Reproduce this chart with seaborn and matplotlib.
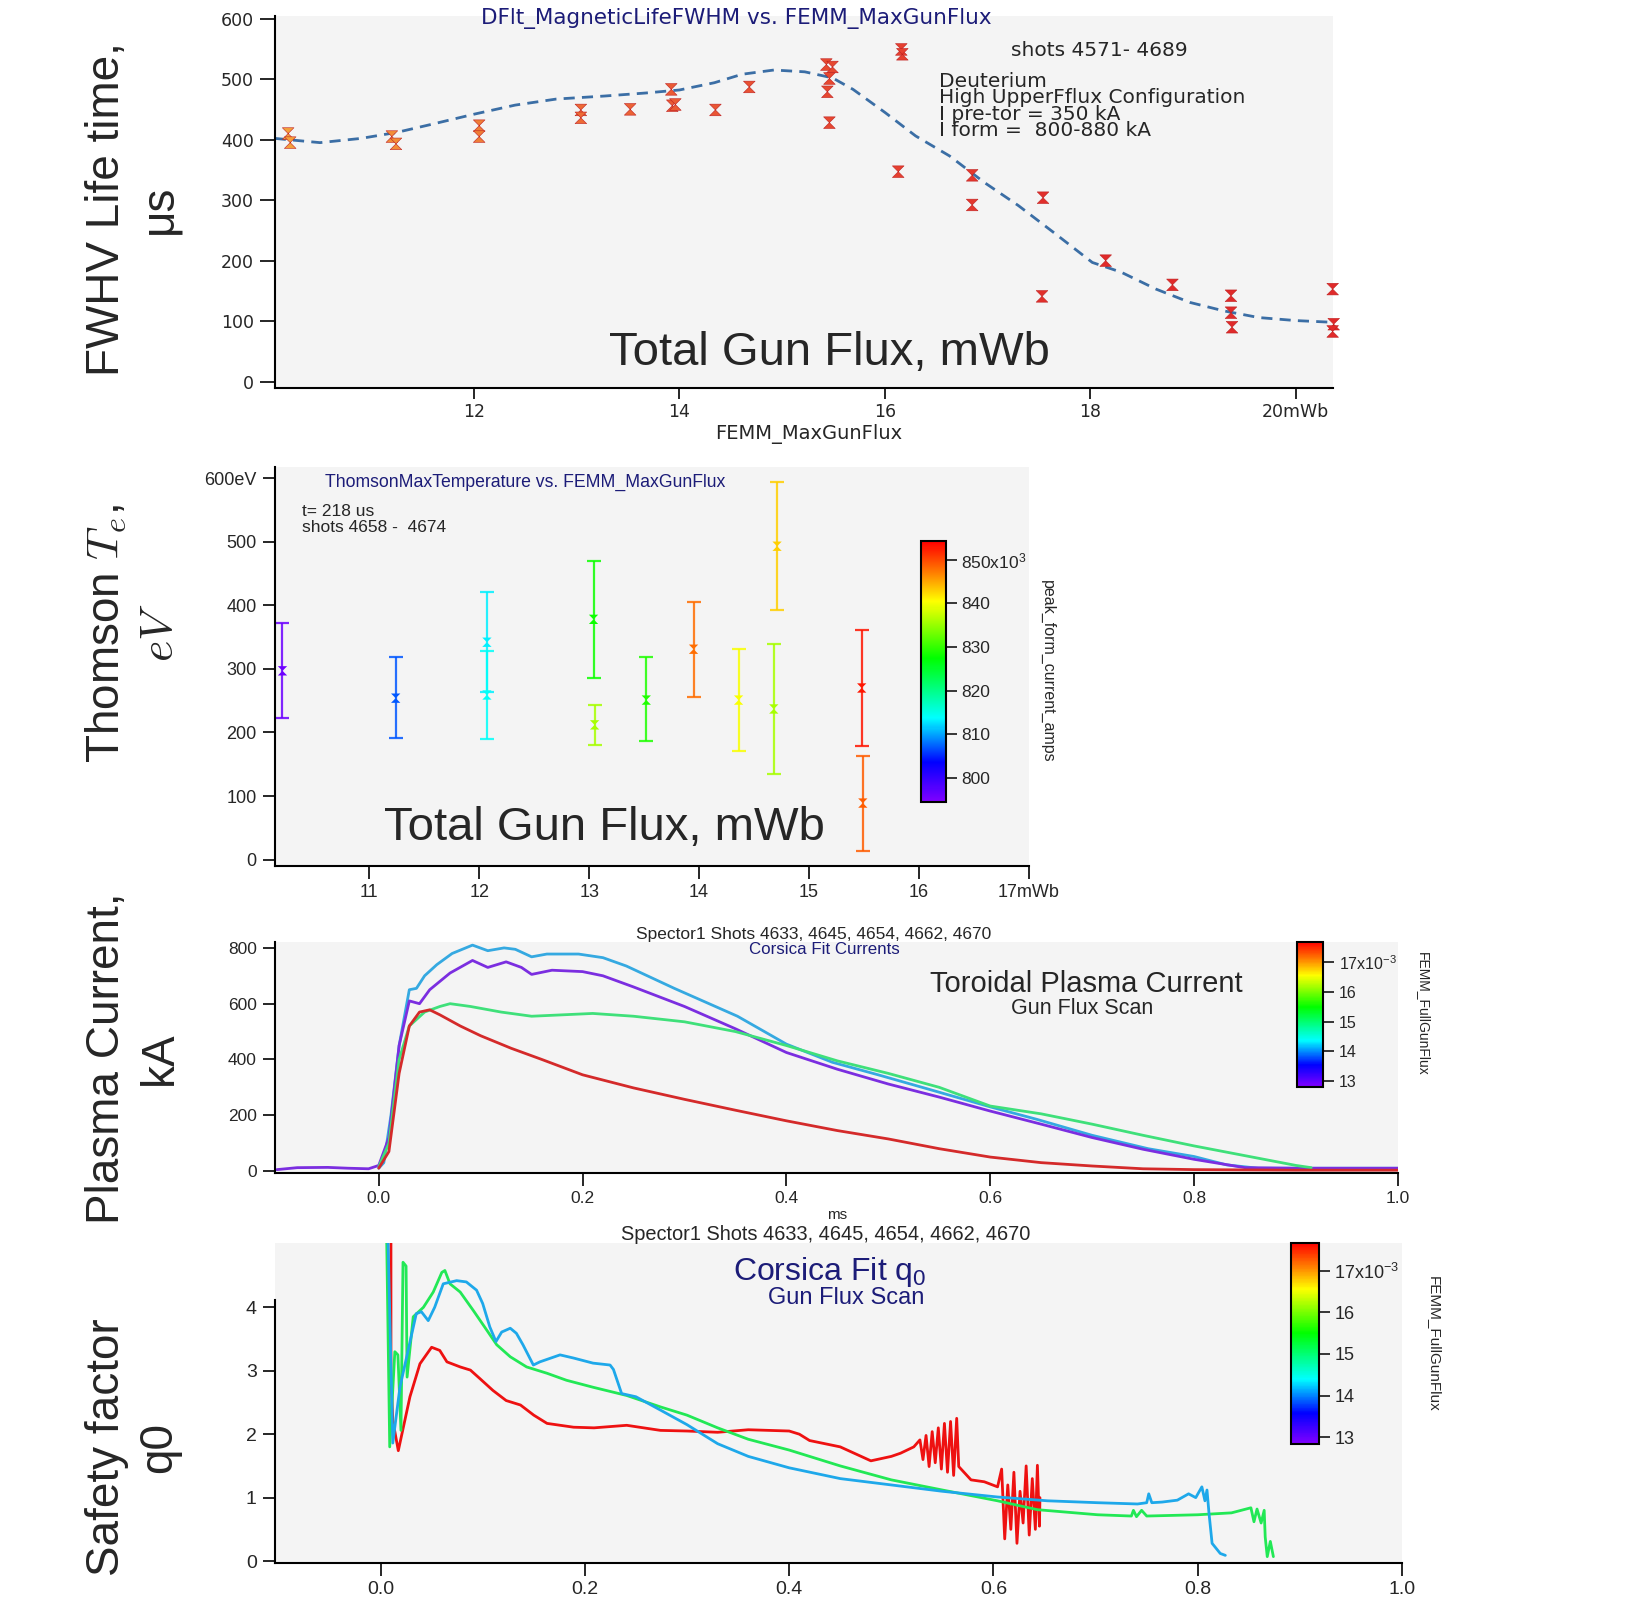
import matplotlib
matplotlib.use("Agg")
import matplotlib.pyplot as plt
import seaborn as sns
from matplotlib.colors import LinearSegmentedColormap, Normalize
from matplotlib.cm import ScalarMappable
from matplotlib.path import Path

# ---------------- panel 1: magnetic lifetime vs gun flux
life_flux = [10.19, 10.21, 11.20, 11.24, 12.05, 12.05, 13.04, 13.04, 13.52,
             13.92, 13.93, 13.96, 14.35, 14.68, 15.43, 15.49, 15.46, 15.44,
             15.46, 16.16, 16.17, 16.13, 16.85, 16.85, 17.54, 17.53, 18.15,
             18.80, 19.37, 19.37, 19.38, 20.36, 20.37, 20.36]
life_fwhm = [410, 395, 405, 393, 423, 405, 449, 436, 450,
             483, 456, 458, 449, 487, 524, 520, 501, 479,
             428, 549, 541, 347, 341, 292, 304, 141, 200,
             160, 142, 114, 90, 153, 95, 83]
fit_flux = [10.06, 10.5, 10.9, 11.25, 11.58, 12.0, 12.4, 12.8, 13.27, 13.67,
            14.0, 14.34, 14.61, 14.92, 15.22, 15.49, 15.69, 16.0, 16.3, 16.63,
            16.97, 17.3, 17.64, 18.02, 18.3, 18.64, 18.97, 19.3, 19.64, 20.0, 20.38]
fit_fwhm = [402, 395, 402, 412, 425, 442, 457, 467, 472, 477,
            482, 494, 508, 515, 512, 502, 483, 445, 406, 373,
            329, 291, 247, 197, 181, 153, 131, 117, 106, 101, 98]

# ---------------- panel 2: Thomson Te vs gun flux
te_flux = [10.21, 11.24, 12.07, 12.07, 13.04, 13.05, 13.52, 13.95, 14.36, 14.71, 14.68, 15.48, 15.49]
te_val = [297, 254, 342, 259, 378, 212, 251, 331, 251, 493, 237, 270, 89]
te_low = [223, 191, 263, 190, 285, 180, 187, 256, 171, 393, 135, 179, 14]
te_high = [372, 318, 421, 328, 470, 243, 318, 406, 331, 594, 339, 361, 163]
te_iform = [796, 807, 813, 814, 828, 836, 829, 848, 840, 843, 836, 853, 849]

# ---------------- panel 3: toroidal plasma current (t [ms], kA)
ip_cyan = [(0.0, 10), (0.005, 30), (0.012, 200), (0.02, 450), (0.03, 650), (0.037, 655),
           (0.045, 700), (0.057, 740), (0.072, 780), (0.092, 810), (0.107, 790), (0.123, 800),
           (0.134, 795), (0.15, 768), (0.165, 778), (0.196, 778), (0.22, 765), (0.243, 735),
           (0.29, 655), (0.352, 555), (0.40, 455), (0.445, 390), (0.49, 345), (0.538, 295),
           (0.60, 230), (0.646, 185), (0.70, 128), (0.755, 80), (0.80, 52), (0.832, 22),
           (0.863, 10), (1.0, 10)]
ip_purple = [(-0.1, 5), (-0.08, 12), (-0.05, 13), (-0.03, 10), (-0.01, 8), (0.0, 20),
             (0.01, 120), (0.02, 450), (0.03, 610), (0.04, 600), (0.05, 650), (0.07, 710),
             (0.092, 755), (0.107, 730), (0.125, 750), (0.14, 730), (0.15, 705), (0.17, 720),
             (0.2, 715), (0.22, 700), (0.25, 660), (0.3, 590), (0.35, 510), (0.4, 425),
             (0.45, 365), (0.5, 312), (0.55, 265), (0.6, 215), (0.65, 168), (0.7, 120),
             (0.75, 78), (0.8, 42), (0.85, 12), (0.9, 10), (1.0, 10)]
ip_green = [(0.0, 15), (0.01, 100), (0.02, 400), (0.03, 520), (0.045, 570), (0.06, 590),
            (0.07, 600), (0.09, 590), (0.12, 570), (0.15, 555), (0.18, 560), (0.21, 565),
            (0.25, 555), (0.3, 535), (0.35, 500), (0.4, 450), (0.45, 395), (0.5, 350),
            (0.55, 300), (0.6, 233), (0.65, 205), (0.7, 168), (0.75, 128), (0.8, 90),
            (0.85, 55), (0.9, 20), (0.915, 12)]
ip_red = [(0.0, 10), (0.01, 70), (0.02, 350), (0.03, 520), (0.04, 570), (0.05, 578),
          (0.06, 560), (0.08, 520), (0.1, 485), (0.13, 440), (0.16, 400), (0.2, 345),
          (0.25, 298), (0.3, 257), (0.35, 218), (0.4, 180), (0.45, 145), (0.5, 115),
          (0.55, 80), (0.6, 50), (0.65, 30), (0.7, 18), (0.75, 8), (0.8, 5), (0.9, 3), (1.0, 3)]

# ---------------- panel 4: safety factor q0 (t [ms], q0)
q_red = [(0.0102, 5.1), (0.0102, 2.9), (0.012, 2.22), (0.0174, 1.74), (0.0288, 2.59),
         (0.0386, 3.11), (0.050, 3.37), (0.058, 3.32), (0.065, 3.14), (0.078, 3.06),
         (0.088, 3.01), (0.097, 2.88), (0.110, 2.69), (0.123, 2.53), (0.137, 2.46),
         (0.150, 2.30), (0.163, 2.17), (0.176, 2.14), (0.189, 2.11), (0.209, 2.10),
         (0.241, 2.14), (0.274, 2.06), (0.30, 2.05), (0.33, 2.03), (0.36, 2.07),
         (0.40, 2.05), (0.41, 2.0), (0.42, 1.9), (0.45, 1.8), (0.48, 1.58), (0.50, 1.65),
         (0.509, 1.70), (0.522, 1.80), (0.528, 1.91), (0.531, 1.6), (0.534, 1.98),
         (0.537, 1.49), (0.540, 2.04), (0.543, 1.55), (0.546, 2.10), (0.549, 1.45),
         (0.552, 2.17), (0.555, 1.4), (0.558, 2.20), (0.561, 1.35), (0.564, 2.25),
         (0.566, 1.49), (0.578, 1.28), (0.591, 1.25), (0.604, 1.17), (0.608, 1.45),
         (0.611, 0.35), (0.614, 1.2), (0.617, 0.5), (0.620, 1.4), (0.623, 0.28),
         (0.626, 1.1), (0.629, 0.6), (0.632, 1.5), (0.635, 0.41), (0.638, 1.3),
         (0.641, 0.5), (0.643, 1.51), (0.645, 0.55), (0.6455, 1.0)]
q_cyan = [(0.0073, 5.1), (0.012, 1.86), (0.019, 2.74), (0.0256, 3.22), (0.035, 3.9),
          (0.040, 3.93), (0.0467, 3.79), (0.053, 4.0), (0.0614, 4.37), (0.0745, 4.42),
          (0.084, 4.4), (0.094, 4.27), (0.100, 4.06), (0.107, 3.69), (0.113, 3.46),
          (0.1186, 3.61), (0.127, 3.67), (0.133, 3.59), (0.1394, 3.41), (0.1496, 3.09),
          (0.156, 3.14), (0.1757, 3.25), (0.189, 3.2), (0.208, 3.12), (0.2247, 3.09),
          (0.228, 3.02), (0.236, 2.64), (0.25, 2.59), (0.274, 2.38), (0.30, 2.15),
          (0.33, 1.85), (0.36, 1.65), (0.40, 1.47), (0.45, 1.3), (0.50, 1.2), (0.55, 1.1),
          (0.604, 1.01), (0.653, 0.95), (0.702, 0.92), (0.741, 0.90), (0.750, 0.92),
          (0.752, 1.06), (0.755, 0.92), (0.765, 0.93), (0.78, 0.96), (0.791, 1.06),
          (0.798, 1.0), (0.804, 1.17), (0.807, 0.95), (0.809, 1.12), (0.811, 0.75),
          (0.814, 0.28), (0.822, 0.12), (0.827, 0.09)]
q_green = [(0.006, 5.1), (0.009, 1.8), (0.014, 3.3), (0.017, 3.25), (0.020, 2.06),
           (0.022, 4.71), (0.025, 4.65), (0.026, 2.9), (0.032, 3.85), (0.042, 4.0),
           (0.0516, 4.24), (0.060, 4.55), (0.063, 4.58), (0.068, 4.37), (0.078, 4.24),
           (0.0908, 3.95), (0.104, 3.64), (0.1137, 3.41), (0.127, 3.22), (0.143, 3.06),
           (0.163, 2.96), (0.182, 2.85), (0.208, 2.74), (0.241, 2.61), (0.274, 2.43),
           (0.30, 2.3), (0.33, 2.1), (0.36, 1.92), (0.40, 1.75), (0.45, 1.5), (0.50, 1.28),
           (0.55, 1.12), (0.604, 0.95), (0.643, 0.81), (0.702, 0.73), (0.735, 0.71),
           (0.737, 0.8), (0.740, 0.7), (0.745, 0.8), (0.75, 0.71), (0.80, 0.73),
           (0.833, 0.76), (0.852, 0.84), (0.855, 0.62), (0.858, 0.82), (0.862, 0.6),
           (0.865, 0.8), (0.866, 0.38), (0.868, 0.07), (0.871, 0.31), (0.874, 0.07)]

NAVY = "#1c1c78"
BG = "#f4f4f4"

sns.set_style("ticks", {"axes.facecolor": BG, "axes.edgecolor": "black"})
plt.rcParams["font.family"] = ["Liberation Sans", "DejaVu Sans"]
plt.rcParams["mathtext.fontset"] = "custom"
plt.rcParams["mathtext.rm"] = "Liberation Sans"
plt.rcParams["mathtext.it"] = "Liberation Sans:italic"
plt.rcParams["mathtext.bf"] = "Liberation Sans:bold"

rainbow = LinearSegmentedColormap.from_list(
    "igor_rainbow",
    [(0.0, "#8000ff"), (0.15, "#0000ff"), (0.32, "#00ffff"), (0.55, "#00ff00"),
     (0.77, "#ffff00"), (0.88, "#ff8000"), (1.0, "#ff0000")])
orange_red = LinearSegmentedColormap.from_list("orr", ["#f5a33a", "#ea5a34", "#e02a2a"])

bowtie = Path([(-1, 1), (1, 1), (-1, -1), (1, -1), (-1, 1)],
              [Path.MOVETO, Path.LINETO, Path.LINETO, Path.LINETO, Path.CLOSEPOLY])


def style_axes(ax, size, family, ticklen=9):
    for side in ("top", "right"):
        ax.spines[side].set_visible(False)
    for side in ("left", "bottom"):
        ax.spines[side].set_linewidth(1.5)
    ax.tick_params(direction="out", length=ticklen, width=1.4, labelsize=size, pad=4)
    for lab in ax.get_xticklabels() + ax.get_yticklabels():
        lab.set_family(family)
    ax.set_xlabel("")
    ax.set_ylabel("")


def add_colorbar(fig, rect, vmin, vmax, ticks, labels, size):
    cax = fig.add_axes(rect)
    cb = fig.colorbar(ScalarMappable(Normalize(vmin, vmax), rainbow), cax=cax)
    cb.set_ticks(ticks, labels=labels)
    cax.tick_params(length=8, width=1.3, labelsize=size, pad=3)
    cb.outline.set_linewidth(1.5)
    return cax


def unzip(pairs):
    return [p[0] for p in pairs], [p[1] for p in pairs]


fig = plt.figure(figsize=(16.26, 16.19), dpi=100)

# ---------------- panel 1
ax1 = fig.add_axes([0.169, 0.7605, 0.6506, 0.2299])
sns.lineplot(x=fit_flux, y=fit_fwhm, ax=ax1, color="#3b6ea5", lw=2,
             linestyle=(0, (4, 2.6)), sort=False, estimator=None)
sns.scatterplot(x=life_flux, y=life_fwhm, hue=life_flux, palette=orange_red,
                hue_norm=(10, 18), marker=bowtie, s=70, linewidth=0.4,
                edgecolor="#c02020", legend=False, ax=ax1, zorder=3, clip_on=False)
ax1.set_xlim(10.06, 20.36)
ax1.set_ylim(-10, 605)
ax1.set_xticks([12, 14, 16, 18, 20], labels=["12", "14", "16", "18", "20mWb"])
ax1.set_yticks(range(0, 601, 100))
style_axes(ax1, 12.5, "DejaVu Sans", ticklen=11)
ax1.tick_params(axis="x", length=8, pad=3)

fig.text(0.4528, 0.9885, "DFlt_MagneticLifeFWHM vs. FEMM_MaxGunFlux", family="DejaVu Sans",
         fontsize=15.5, color=NAVY, ha="center", va="center")
fig.text(0.6218, 0.969, "shots 4571- 4689", family="DejaVu Sans", fontsize=14.5,
         ha="left", va="center")
fig.text(0.5772, 0.9555, "Deuterium\nHigh UpperFflux Configuration\nI pre-tor = 350 kA\n"
         "I form =  800-880 kA", family="DejaVu Sans", fontsize=14.5, ha="left", va="top",
         linespacing=0.82)
fig.text(0.5102, 0.7822, "Total Gun Flux, mWb", fontsize=34, ha="center", va="center")
fig.text(0.4975, 0.7318, "FEMM_MaxGunFlux", family="DejaVu Sans", fontsize=14,
         ha="center", va="center")

# ---------------- panel 2
ax2 = fig.add_axes([0.169, 0.4651, 0.4637, 0.2466])
te_norm = Normalize(794.6, 854.2)
for x, y, lo, hi, cur in zip(te_flux, te_val, te_low, te_high, te_iform):
    ax2.errorbar([x], [y], yerr=[[y - lo], [hi - y]], fmt="none", ecolor=rainbow(te_norm(cur)),
                 elinewidth=1.6, capsize=5, capthick=1.6, alpha=0.85)
sns.scatterplot(x=te_flux, y=te_val, hue=te_iform, palette=rainbow, hue_norm=te_norm,
                marker=bowtie, s=45, linewidth=0, legend=False, ax=ax2, zorder=3)
ax2.set_xlim(10.14, 17.0)
ax2.set_ylim(-10, 618)
ax2.set_xticks(range(11, 18), labels=["11", "12", "13", "14", "15", "16", "17mWb"])
ax2.set_yticks(range(0, 601, 100), labels=["0", "100", "200", "300", "400", "500", "600eV"])
style_axes(ax2, 13, "Liberation Sans")

fig.text(0.3227, 0.7021, "ThomsonMaxTemperature vs. FEMM_MaxGunFlux", fontsize=12.7,
         color=NAVY, ha="center", va="center")
fig.text(0.1856, 0.689, "t= 218 us\nshots 4658 -  4674", fontsize=12.5, ha="left", va="top",
         linespacing=1.15)
fig.text(0.3718, 0.4883, "Total Gun Flux, mWb", fontsize=34, ha="center", va="center")
add_colorbar(fig, [0.5664, 0.5048, 0.0152, 0.1608], 794.6, 854.2,
             [800, 810, 820, 830, 840, 850],
             ["800", "810", "820", "830", "840", "850x10$^3$"], 12.5)
fig.text(0.644, 0.5855, "peak_form_current_amps", fontsize=11.5, rotation=-90,
         ha="center", va="center")

# ---------------- panel 3
ax3 = fig.add_axes([0.169, 0.2755, 0.6907, 0.1428])
for trace, col in [(ip_cyan, "#35a9e1"), (ip_purple, "#7b2ee0"),
                   (ip_green, "#3fe07a"), (ip_red, "#d42a2a")]:
    t, v = unzip(trace)
    sns.lineplot(x=t, y=v, ax=ax3, color=col, lw=2, sort=False, estimator=None)
ax3.set_xlim(-0.102, 1.0)
ax3.set_ylim(-7, 822)
ax3.set_xticks([0.0, 0.2, 0.4, 0.6, 0.8, 1.0], labels=["0.0", "0.2", "0.4", "0.6", "0.8", "1.0"])
ax3.set_yticks(range(0, 801, 200))
style_axes(ax3, 12.5, "Liberation Sans")

fig.text(0.5006, 0.4228, "Spector1 Shots 4633, 4645, 4654, 4662, 4670", fontsize=12.5,
         ha="center", va="center")
fig.text(0.507, 0.4138, "Corsica Fit Currents", fontsize=12.2, color=NAVY,
         ha="center", va="center")
fig.text(0.6678, 0.3925, "Toroidal Plasma Current", fontsize=21, ha="center", va="center")
fig.text(0.6658, 0.3768, "Gun Flux Scan", fontsize=15.5, ha="center", va="center")
fig.text(0.5147, 0.2498, "ms", fontsize=11, ha="center", va="center")
add_colorbar(fig, [0.7978, 0.3287, 0.0160, 0.0896], 12.79, 17.7,
             [13, 14, 15, 16, 17], ["13", "14", "15", "16", "17x10$^{-3}$"], 11.5)
fig.text(0.875, 0.374, "FEMM_FullGunFlux", fontsize=10, rotation=-90, ha="center", va="center")

# ---------------- panel 4
ax4 = fig.add_axes([0.169, 0.0346, 0.6933, 0.1979])
for trace, col in [(q_red, "#ee1111"), (q_green, "#22e855"), (q_cyan, "#1ea8ea")]:
    t, v = unzip(trace)
    sns.lineplot(x=t, y=v, ax=ax4, color=col, lw=2, sort=False, estimator=None)
ax4.set_xlim(-0.1035, 1.0)
ax4.set_ylim(-0.03, 5.02)
ax4.set_xticks([0.0, 0.2, 0.4, 0.6, 0.8, 1.0], labels=["0.0", "0.2", "0.4", "0.6", "0.8", "1.0"])
ax4.set_yticks(range(0, 5))
style_axes(ax4, 14, "Liberation Sans")
ax4.spines["left"].set_bounds(-0.03, 4.12)

fig.text(0.5077, 0.2377, "Spector1 Shots 4633, 4645, 4654, 4662, 4670", fontsize=14.4,
         ha="center", va="center")
fig.text(0.5102, 0.2146, "Corsica Fit q$_0$", fontsize=23, color=NAVY, ha="center", va="center")
fig.text(0.5205, 0.198, "Gun Flux Scan", fontsize=17, color=NAVY, ha="center", va="center")
add_colorbar(fig, [0.794, 0.1083, 0.0172, 0.1242], 12.85, 17.67,
             [13, 14, 15, 16, 17], ["13", "14", "15", "16", "17x10$^{-3}$"], 13)
fig.text(0.882, 0.170, "FEMM_FullGunFlux", fontsize=11, rotation=-90, ha="center", va="center")

# ---------------- figure-level axis titles
fig.text(0.082, 0.871, "FWHV Life time,\nμs", fontsize=33, rotation=90,
         ha="center", va="center", multialignment="center", linespacing=1.25)
fig.text(0.082, 0.609, "Thomson $T_e$,\n$eV$", fontsize=33, rotation=90,
         ha="center", va="center", multialignment="center", linespacing=1.25,
         math_fontfamily="cm")
fig.text(0.082, 0.3466, "Plasma Current,\nkA", fontsize=33, rotation=90,
         ha="center", va="center", multialignment="center", linespacing=1.25)
fig.text(0.082, 0.106, "Safety factor\nq0", fontsize=33, rotation=90,
         ha="center", va="center", multialignment="center", linespacing=1.25)

fig.savefig("out.png", dpi=100)
